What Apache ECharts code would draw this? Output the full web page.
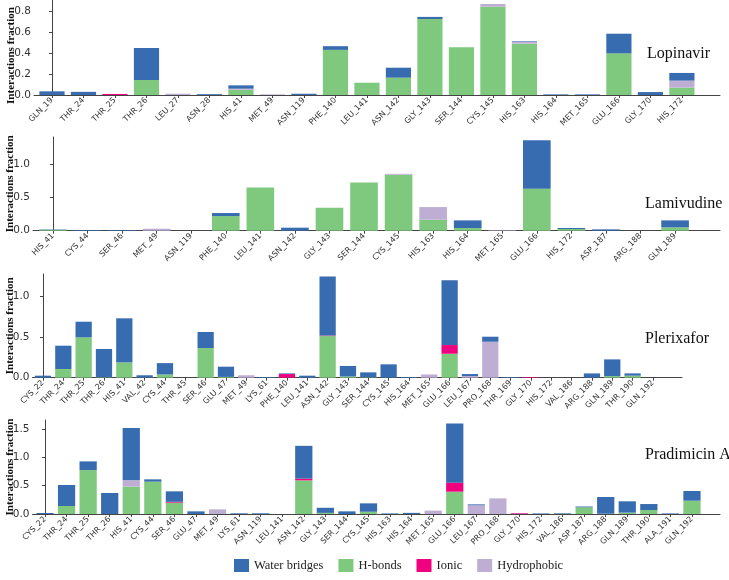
<!DOCTYPE html>
<html><head><meta charset="utf-8">
<script src="https://cdn.jsdelivr.net/npm/echarts@6/dist/echarts.min.js"></script>
<style>html,body{margin:0;padding:0;background:#fff}#c{width:729px;height:580px}</style>
</head><body><div id="c"></div>
<script>
// ---- Data ----
const seriesNames = ['H-bonds', 'Ionic', 'Hydrophobic', 'Water bridges'];
const legendOrder = ['Water bridges', 'H-bonds', 'Ionic', 'Hydrophobic'];

const lopCats = ['GLN_19','THR_24','THR_25','THR_26','LEU_27','ASN_28','HIS_41','MET_49','ASN_119','PHE_140','LEU_141','ASN_142','GLY_143','SER_144','CYS_145','HIS_163','HIS_164','MET_165','GLU_166','GLY_170','HIS_172'];
const lopHB    = [0,0,0,0.143,0,0,0.05,0,0,0.43,0.117,0.165,0.724,0.454,0.841,0.489,0,0,0.397,0,0.07];
const lopIonic = [0,0,0.01,0,0,0,0,0,0,0,0,0,0,0,0,0,0,0,0,0,0];
const lopHydro = [0,0,0,0,0.012,0,0.01,0.006,0,0,0,0,0,0,0.026,0.02,0,0,0,0,0.067];
const lopWater = [0.035,0.03,0,0.305,0,0.008,0.032,0,0.012,0.035,0,0.095,0.02,0,0,0.005,0.006,0.006,0.187,0.028,0.073];

const lamCats = ['HIS_41','CYS_44','SER_46','MET_49','ASN_119','PHE_140','LEU_141','ASN_142','GLY_143','SER_144','CYS_145','HIS_163','HIS_164','MET_165','GLU_166','HIS_172','ASP_187','ARG_188','GLN_189'];
const lamHB    = [0.015,0,0,0,0,0.219,0.647,0,0.343,0.72,0.836,0.164,0.04,0,0.627,0.025,0,0,0.05];
const lamIonic = [0,0,0,0,0,0,0,0,0,0,0,0,0,0,0,0,0,0,0];
const lamHydro = [0,0,0,0.03,0,0,0,0,0,0,0.014,0.189,0,0.008,0,0,0,0,0];
const lamWater = [0.005,0.01,0.01,0,0,0.045,0,0.045,0,0,0,0,0.114,0,0.726,0.015,0.02,0,0.104];

const pleCats = ['CYS_22','THR_24','THR_25','THR_26','HIS_41','VAL_42','CYS_44','THR_45','SER_46','GLU_47','MET_49','LYS_61','PHE_140','LEU_141','ASN_142','GLY_143','SER_144','CYS_145','HIS_164','MET_165','GLU_166','LEU_167','PRO_168','THR_169','GLY_170','HIS_172','VAL_186','ARG_188','GLN_189','THR_190','GLN_192'];
const pleHB    = [0,0.107,0.498,0.005,0.189,0,0.04,0,0.366,0.01,0,0,0,0,0.514,0.015,0.005,0,0,0,0.296,0,0,0,0,0,0,0,0.02,0.025,0];
const pleIonic = [0,0,0,0,0,0,0,0,0,0,0,0,0.045,0,0.006,0,0,0,0,0,0.107,0,0,0,0.008,0,0,0,0,0,0];
const pleHydro = [0,0,0,0,0,0,0,0,0,0,0.03,0,0,0,0,0,0,0,0,0.04,0,0.02,0.444,0,0,0,0,0,0,0,0];
const pleWater = [0.025,0.288,0.193,0.349,0.544,0.03,0.14,0,0.198,0.126,0,0.008,0.008,0.025,0.73,0.13,0.061,0.165,0.008,0,0.8,0.025,0.062,0.008,0,0,0,0.053,0.206,0.028,0];

const praCats = ['CYS_22','THR_24','THR_25','THR_26','HIS_41','CYS_44','SER_46','GLU_47','MET_49','LYS_61','ASN_119','LEU_141','ASN_142','GLY_143','SER_144','CYS_145','HIS_163','HIS_164','MET_165','GLU_166','LEU_167','PRO_168','GLY_170','HIS_172','VAL_186','ASP_187','ARG_188','GLN_189','THR_190','ALA_191','GLN_192'];
const praHB    = [0,0.141,0.776,0,0.482,0.571,0.2,0,0,0,0,0,0.594,0.02,0,0.04,0,0,0,0.394,0,0,0,0,0.005,0.118,0.005,0.024,0.07,0,0.235];
const praIonic = [0,0,0,0,0,0,0.015,0,0,0,0,0,0.03,0,0,0,0,0,0,0.159,0,0,0.012,0,0,0,0,0,0,0,0];
const praHydro = [0,0,0,0,0.112,0,0,0,0.082,0,0,0,0,0,0,0,0,0,0.06,0,0.153,0.276,0,0,0,0,0,0,0,0,0];
const praWater = [0.018,0.371,0.153,0.371,0.924,0.041,0.185,0.047,0,0.012,0.012,0,0.58,0.09,0.047,0.148,0.01,0.02,0,1.047,0.017,0,0,0.01,0.01,0.014,0.295,0.2,0.106,0.01,0.171];

const compounds = ['Lopinavir', 'Lamivudine', 'Plerixafor', 'Pradimicin A'];
const yTicks = [[0,0.2,0.4,0.6,0.8],[0,0.5,1.0],[0,0.5,1.0],[0,0.5,1.0,1.5]];
const yMax = [0.905, 1.4, 1.28, 1.66];

// ---- Layout / style ----
const colors = {'Water bridges':'#386cb0','H-bonds':'#7fc97f','Ionic':'#f0027f','Hydrophobic':'#beaed4'};
const panels = [
  {cats: lopCats, data: [lopHB, lopIonic, lopHydro, lopWater], left: 34, right: 9, top: 0, height: 95, xmin: -0.571, xmax: 21.21, tx: 647, ty: 46, namePad: [0, 16, 0, 0]},
  {cats: lamCats, data: [lamHB, lamIonic, lamHydro, lamWater], left: 33, right: 9, top: 137, height: 93.7, xmin: -0.578, xmax: 19.30, tx: 645, ty: 196, namePad: 0},
  {cats: pleCats, data: [pleHB, pleIonic, pleHydro, pleWater], left: 32.5, right: 47, top: 274, height: 103.7, xmin: -0.516, xmax: 31.43, tx: 645, ty: 331, namePad: 0},
  {cats: praCats, data: [praHB, praIonic, praHydro, praWater], left: 32.5, right: 9, top: 420, height: 94, xmin: -0.58, xmax: 31.30, tx: 645, ty: 447, namePad: 0}
];

const axisColor = '#444';
const grid = [], xAxis = [], yAxis = [], series = [], title = [];
panels.forEach((p, k) => {
  grid.push({left: p.left, right: p.right, top: p.top, height: p.height, containLabel: false, outerBoundsMode: 'none'});
  const gw = 729 - p.left - p.right;
  const step = gw / (p.xmax - p.xmin);
  xAxis.push({
    type: 'value', gridIndex: k, min: p.xmin, max: p.xmax,
    splitLine: {show: false},
    axisLine: {show: true, onZero: false, lineStyle: {color: axisColor, width: 1}},
    axisTick: {show: true, length: 3, lineStyle: {color: axisColor}, customValues: p.cats.map((c, i) => i)},
    axisLabel: {
      customValues: p.cats.map((c, i) => i),
      formatter: (v) => p.cats[Math.round(v)] || '',
      rotate: 45, margin: 4, fontSize: 8, color: '#333', fontFamily: 'DejaVu Sans'
    }
  });
  yAxis.push({
    type: 'value', gridIndex: k, min: 0, max: yMax[k],
    name: 'Interactions fraction', nameLocation: 'middle', nameGap: 17, nameMoveOverlap: false,
    nameTextStyle: {fontFamily: 'Liberation Serif', fontWeight: 'bold', fontSize: 11, color: '#111', padding: p.namePad},
    splitLine: {show: false},
    axisLine: {show: true, lineStyle: {color: axisColor, width: 1}},
    axisTick: {show: true, length: 3, lineStyle: {color: axisColor}, customValues: yTicks[k]},
    axisLabel: {customValues: yTicks[k], formatter: (v) => v.toFixed(1), fontSize: 10.5, color: '#333', fontFamily: 'DejaVu Sans', margin: 3}
  });
  seriesNames.forEach((name, j) => {
    series.push({
      name: name, type: 'bar', xAxisIndex: k, yAxisIndex: k, stack: 'p' + k,
      barWidth: step * 0.8,
      itemStyle: {color: colors[name]},
      emphasis: {disabled: true},
      encode: {x: 1, y: 0},
      data: p.data[j].map((v, i) => [v, i])
    });
  });
  title.push({text: compounds[k], left: p.tx, top: p.ty, padding: 0,
    textStyle: {fontFamily: 'Liberation Serif', fontWeight: 'normal', fontSize: 16, color: '#111'}});
});

const chart = echarts.init(document.getElementById('c'), null, {renderer: 'canvas'});
chart.setOption({
  animation: false,
  title: title,
  grid: grid, xAxis: xAxis, yAxis: yAxis, series: series,
  legend: {
    data: legendOrder, left: 234, top: 559, icon: 'rect', itemWidth: 15, itemHeight: 13,
    itemGap: 15, padding: 0,
    textStyle: {fontFamily: 'Liberation Serif', fontSize: 12.5, color: '#222', padding: [0, 0, 0, 0]}
  }
});
</script></body></html>
